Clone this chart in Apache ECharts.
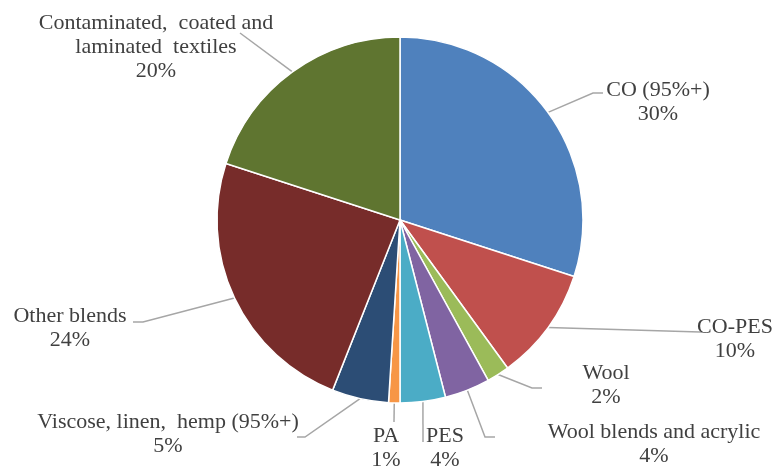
<!DOCTYPE html>
<html>
<head>
<meta charset="utf-8">
<script src="https://cdn.jsdelivr.net/npm/echarts@6/dist/echarts.min.js"></script>
<style>
html,body{margin:0;padding:0;background:#fff;}
#c{width:784px;height:470px;}
</style>
</head>
<body>
<div id="c"></div>
<script>
var categories = [
  'CO (95%+)',
  'CO-PES',
  'Wool',
  'Wool blends and acrylic',
  'PES',
  'PA',
  'Viscose, linen,  hemp (95%+)',
  'Other blends',
  'Contaminated,  coated and\nlaminated  textiles'
];
var values = [30, 10, 2, 4, 4, 1, 5, 24, 20];
var colors = ['#4F81BD', '#C0504D', '#9BBB59', '#8064A2', '#4BACC6', '#F79646', '#2C4D75', '#772C2A', '#5F7530'];

// label placement (layout only)
var labelAnchors = [
  [658, 102], [735, 339], [606, 385], [654, 444], [445, 448],
  [386, 448], [168, 434], [70, 328], [156, 47]
];
var labelElbows = [
  [[593, 93], [603, 93]],
  [[700, 332], [702, 332]],
  [[532, 388], [542, 388]],
  [[485, 437], [495, 437]],
  [[423, 442], [423, 442]],
  [[394, 422], [394, 422]],
  [[305, 437], [297, 437]],
  [[143, 322], [133, 322]],
  [[240, 33], [240, 33]]
];

var chart = echarts.init(document.getElementById('c'), null, {renderer: 'canvas'});
chart.setOption({
  animation: false,
  backgroundColor: '#ffffff',
  series: [{
    type: 'pie',
    center: [400, 220],
    radius: 183,
    startAngle: 90,
    clockwise: true,
    itemStyle: {borderColor: '#ffffff', borderWidth: 1.5},
    label: {
      show: true,
      position: 'outside',
      formatter: function (p) { return p.name + '\n' + p.value + '%'; },
      fontFamily: '"Liberation Serif", "Times New Roman", serif',
      fontSize: 22,
      lineHeight: 24,
      color: '#404040',
      align: 'center',
      overflow: 'none'
    },
    labelLine: {
      show: true,
      lineStyle: {color: '#A6A6A6', width: 1.5}
    },
    labelLayout: function (params) {
      var i = params.dataIndex;
      var a = labelAnchors[i];
      var e = labelElbows[i];
      var p0 = params.labelLinePoints ? params.labelLinePoints[0] : e[0];
      return {
        x: a[0], y: a[1], align: 'center', verticalAlign: 'middle',
        labelLinePoints: [p0, e[0], e[1]]
      };
    },
    data: categories.map(function (c, i) {
      return {name: c, value: values[i], itemStyle: {color: colors[i]}};
    })
  }]
});
</script>
</body>
</html>
